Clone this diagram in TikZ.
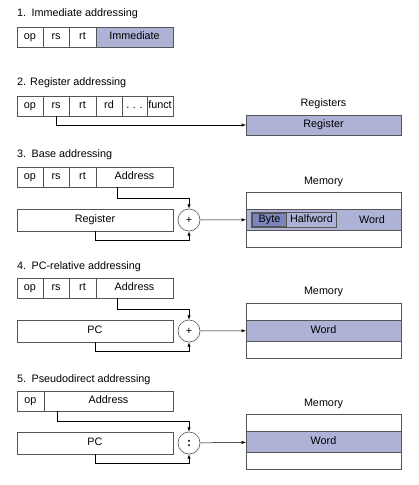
\documentclass[tikz,border=0pt]{standalone}
\usepackage{fontspec}
\setmainfont{Liberation Sans}
\usetikzlibrary{positioning}
\definecolor{fieldblue}{RGB}{174,178,214}
\definecolor{bytedark}{RGB}{124,132,189}
\definecolor{edgegray}{RGB}{85,85,85}

\tikzset{
  field/.style={draw=edgegray, line width=0.6pt, minimum height=20pt, inner sep=0pt, outer sep=0pt, anchor=north west, text height=7.8pt, text depth=2.2pt},
  cell/.style={field, minimum width=155pt},
  title/.style={anchor=west, inner sep=0pt},
  adder/.style={circle, draw=edgegray, line width=0.6pt, minimum size=22pt, inner sep=0pt},
  link/.style={draw=black, line width=0.5pt, -latex},
}

\begin{document}
\begin{tikzpicture}[x=1pt, y=-1pt, font=\fontsize{10.8}{13}\selectfont]
\useasboundingbox (0,0) rectangle (419,485);

% 1. Immediate addressing
\node[title] (t1) at (17,14) {1.\enspace Immediate addressing};
\node[field, minimum width=26pt] (op1) at (17,27) {op};
\node[field, minimum width=26pt, right=0pt of op1] (rs1) {rs};
\node[field, minimum width=27pt, right=0pt of rs1] (rt1) {rt};
\node[field, minimum width=77pt, fill=fieldblue, right=0pt of rt1] (imm1) {Immediate};

% 2. Register addressing
\node[title] (t2) at (17,83) {2. Register addressing};
\node[field, minimum width=26pt] (op2) at (17,96) {op};
\node[field, minimum width=26pt, right=0pt of op2] (rs2) {rs};
\node[field, minimum width=27pt, right=0pt of rs2] (rt2) {rt};
\node[field, minimum width=26pt, right=0pt of rt2] (rd2) {rd};
\node[field, minimum width=25pt, right=0pt of rd2] (dots2) {.\,\,.\,\,.};
\node[field, minimum width=26pt, right=0pt of dots2] (funct2) {funct};
\node (regs2) at (323.5,104) {Registers};
\node[cell, fill=fieldblue] (reg2) at (246,115) {Register};
\draw[link] (rs2.south) |- (reg2.west);

% 3. Base addressing
\node[title] (t3) at (17,155) {3.\enspace Base addressing};
\node[field, minimum width=26pt] (op3) at (17,167) {op};
\node[field, minimum width=26pt, right=0pt of op3] (rs3) {rs};
\node[field, minimum width=27pt, right=0pt of rs3] (rt3) {rt};
\node[field, minimum width=77pt, right=0pt of rt3] (addr3) {Address};
\node[field, minimum width=156pt, minimum height=22pt] (reg3) at (17,209) {Register};
\node[adder] (add3) at (189,220) {+};
\node (mem3) at (323.5,182) {Memory};
\node[cell, minimum height=17pt] (m3a) at (246,192) {};
\node[cell, minimum height=21pt, fill=fieldblue, below=0pt of m3a] (m3w) {};
\node[cell, minimum height=17pt, below=0pt of m3w] (m3b) {};
\node (word3) at (372,220) {Word};
\node[field, minimum width=85pt, minimum height=15pt] (half3) at (251,212) {\hspace*{36pt}Halfword};
\node[field, minimum width=34pt, minimum height=13pt, fill=bytedark] (byte3) at (252.5,213) {Byte};
\draw[link] ([xshift=-17pt]addr3.south) |- ([yshift=10pt]add3.north) -- (add3.north);
\draw[link] (reg3.south) |- ([yshift=-9pt]add3.south) -- (add3.south);
\draw[link] (add3) -- (m3w);

% 4. PC-relative addressing
\node[title] (t4) at (17,267) {4.\enspace PC-relative addressing};
\node[field, minimum width=26pt] (op4) at (17,278) {op};
\node[field, minimum width=26pt, right=0pt of op4] (rs4) {rs};
\node[field, minimum width=27pt, right=0pt of rs4] (rt4) {rt};
\node[field, minimum width=77pt, right=0pt of rt4] (addr4) {Address};
\node[field, minimum width=156pt, minimum height=22pt] (pc4) at (17,320) {PC};
\node[adder] (add4) at (189,331) {+};
\node (mem4) at (323.5,292) {Memory};
\node[cell, minimum height=17pt] (m4a) at (246,303) {};
\node[cell, minimum height=21pt, fill=fieldblue, below=0pt of m4a] (m4w) {Word};
\node[cell, minimum height=17pt, below=0pt of m4w] (m4b) {};
\draw[link] ([xshift=-17pt]addr4.south) |- ([yshift=10pt]add4.north) -- (add4.north);
\draw[link] (pc4.south) |- ([yshift=-9pt]add4.south) -- (add4.south);
\draw[link] (add4) -- (m4w);

% 5. Pseudodirect addressing
\node[title] (t5) at (17,380) {5.\enspace Pseudodirect addressing};
\node[field, minimum width=27pt] (op5) at (17,391) {op};
\node[field, minimum width=129pt, right=0pt of op5] (addr5) {Address};
\node[field, minimum width=156pt, minimum height=22pt] (pc5) at (17,432) {PC};
\node[adder, font=\bfseries\large] (add5) at (189,443) {:};
\node (mem5) at (323.5,404) {Memory};
\node[cell, minimum height=17pt] (m5a) at (246,414) {};
\node[cell, minimum height=21pt, fill=fieldblue, below=0pt of m5a] (m5w) {Word};
\node[cell, minimum height=17pt, below=0pt of m5w] (m5b) {};
\draw[link] ([xshift=-51.5pt]addr5.south) |- ([yshift=10pt]add5.north) -- (add5.north);
\draw[link] (pc5.south) |- ([yshift=-9pt]add5.south) -- (add5.south);
\draw[link] (add5) -- (m5w);
\end{tikzpicture}
\end{document}
